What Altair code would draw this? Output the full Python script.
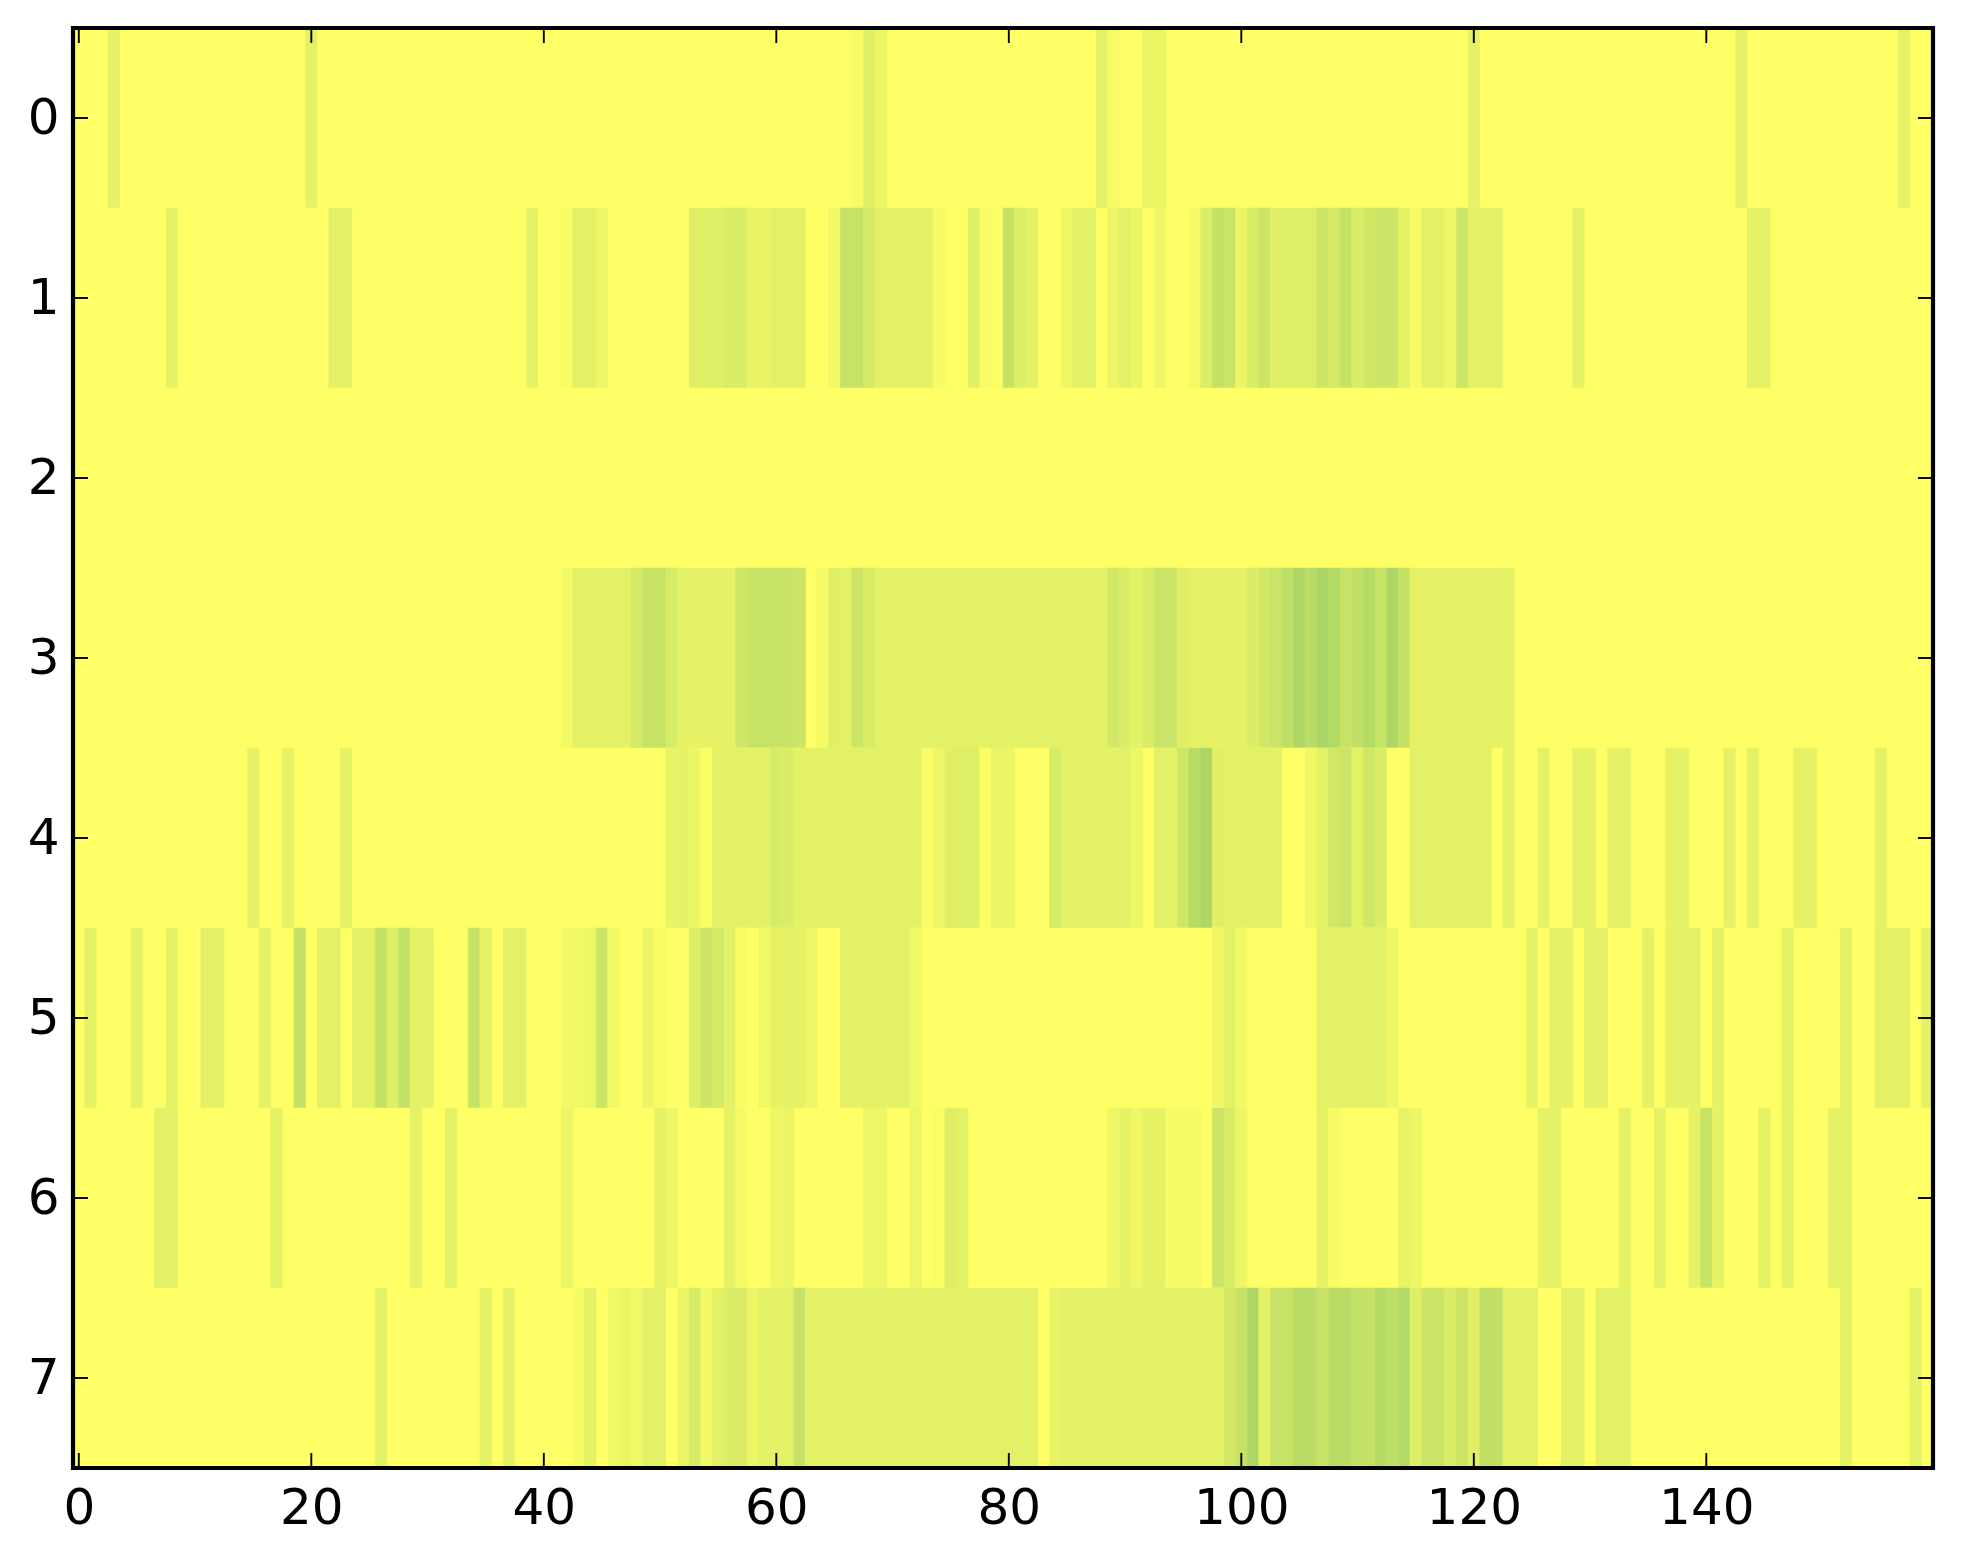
import altair as alt
import pandas as pd

# Each run: (first column, last column, value). Columns not listed are 0.
row_0 = [(3,3,.10),(20,20,.10),(67,67,.03),(68,68,.12),(69,69,.08),(88,88,.11),(89,89,.03),
         (92,93,.08),(120,120,.10),(143,143,.10),(157,157,.10)]
row_1 = [(8,8,.10),(22,23,.11),(39,39,.10),(42,42,.02),(43,44,.11),(45,45,.07),(53,53,.13),(54,55,.12),
         (56,57,.15),(58,59,.09),(60,62,.11),(65,65,.05),(66,67,.22),(68,68,.17),(69,73,.11),(74,74,.03),
         (76,76,.005),(77,77,.12),(78,78,.02),(79,79,.01),(80,80,.23),(81,81,.13),(82,82,.11),(85,85,.06),
         (86,87,.11),(89,89,.08),(90,90,.11),(91,91,.08),(93,93,.06),(96,96,.04),(97,97,.14),(98,98,.23),
         (99,99,.21),(100,100,.08),(101,101,.15),(102,102,.20),(103,106,.12),(107,107,.20),(108,108,.17),
         (109,109,.23),(110,110,.14),(111,111,.18),(112,113,.20),(114,114,.10),(115,115,.03),(116,117,.11),
         (118,118,.07),(119,119,.20),(120,122,.11),(129,129,.10),(144,145,.11)]
row_2 = []
row_3 = [(42,42,.05),(43,47,.11),(48,48,.17),(49,50,.22),(51,51,.16),(52,56,.10),(57,57,.19),(58,61,.22),
         (62,62,.20),(64,64,.04),(65,65,.12),(66,66,.11),(67,67,.20),(68,68,.15),(69,88,.11),(89,89,.18),
         (90,90,.14),(91,91,.11),(92,92,.14),(93,94,.21),(95,95,.13),(96,96,.10),(97,97,.11),(98,100,.10),
         (101,101,.14),(102,102,.18),(103,103,.21),(104,104,.25),(105,105,.32),(106,106,.27),(107,107,.33),
         (108,108,.30),(109,109,.22),(110,110,.24),(111,111,.29),(112,112,.22),(113,113,.32),(114,114,.23),
         (115,123,.10)]
row_4 = [(15,15,.10),(18,18,.10),(23,23,.10),(51,51,.09),(52,52,.10),(53,53,.07),(54,54,.01),(55,59,.11),
         (60,60,.16),(61,61,.14),(62,72,.11),(73,73,.02),(74,74,.07),(75,77,.12),(78,78,.01),(79,80,.08),
         (84,84,.16),(85,90,.11),(91,91,.07),(93,94,.11),(95,95,.19),(96,96,.28),(97,97,.32),(98,98,.12),
         (99,103,.11),(106,106,.06),(107,107,.11),(108,108,.18),(109,109,.20),(110,110,.11),(111,111,.19),
         (112,112,.14),(115,121,.11),(123,123,.10),(126,126,.10),(129,130,.10),(132,133,.10),(137,138,.10),
         (142,142,.10),(144,144,.10),(148,149,.10),(155,155,.10)]
row_5 = [(1,1,.10),(5,5,.10),(8,8,.10),(11,12,.11),(16,16,.10),(19,19,.23),(21,22,.11),(24,25,.11),(26,26,.23),
         (27,27,.12),(28,28,.23),(29,30,.11),(34,34,.23),(35,35,.10),(37,38,.11),(42,43,.05),(44,44,.07),
         (45,45,.20),(46,46,.05),(49,49,.08),(50,50,.02),(53,53,.13),(54,54,.20),(55,55,.17),(56,56,.11),
         (57,57,.02),(59,59,.05),(60,62,.10),(63,63,.07),(66,71,.11),(72,72,.05),(98,98,.06),(99,99,.11),
         (100,100,.05),(107,112,.11),(113,113,.07),(125,125,.10),(127,128,.10),(130,131,.10),(135,135,.10),
         (137,139,.10),(141,141,.10),(147,147,.10),(152,152,.10),(155,157,.11),(159,159,.10)]
row_6 = [(7,8,.11),(17,17,.10),(29,29,.10),(32,32,.11),(42,42,.07),(50,50,.10),(51,51,.07),(56,56,.10),
         (57,57,.04),(60,60,.06),(61,61,.08),(68,69,.07),(72,72,.07),(74,74,.01),(75,75,.13),(76,76,.11),
         (89,89,.06),(90,90,.10),(91,91,.06),(92,93,.10),(94,96,.03),(98,98,.20),(99,99,.15),(100,100,.07),
         (107,107,.10),(108,108,.03),(114,114,.09),(115,115,.07),(126,127,.10),(133,133,.10),(136,136,.10),
         (139,139,.10),(140,140,.22),(141,141,.10),(145,145,.10),(147,147,.10),(151,152,.10)]
row_7 = [(26,26,.11),(35,35,.10),(37,37,.10),(43,43,.03),(44,44,.10),(46,46,.05),(47,47,.08),(48,48,.05),
         (49,50,.11),(52,52,.08),(53,53,.16),(54,54,.05),(55,55,.11),(56,57,.14),(58,58,.08),(59,61,.11),
         (62,62,.22),(63,82,.11),(84,84,.09),(85,98,.11),(99,99,.17),(100,100,.22),(101,101,.32),(102,102,.11),
         (103,104,.22),(105,105,.28),(106,106,.27),(107,107,.22),(108,109,.27),(110,111,.23),(112,112,.29),
         (113,113,.26),(114,114,.30),(115,115,.13),(116,117,.20),(118,118,.14),(119,119,.20),(120,120,.12),
         (121,122,.24),(123,125,.11),(128,129,.11),(131,133,.11),(152,152,.10),(158,158,.10)]
rows = [row_0, row_1, row_2, row_3, row_4, row_5, row_6, row_7]

x_ticks = [0, 20, 40, 60, 80, 100, 120, 140]
y_ticks = [0, 1, 2, 3, 4, 5, 6, 7]
n_cols = 160
n_rows = 8

records = []
for r, runs in enumerate(rows):
    records.append(dict(x=-0.5, x2=n_cols - 0.5, y=r - 0.5, y2=r + 0.5, v=0.0))
    for first, last, v in runs:
        records.append(dict(x=first - 0.5, x2=last + 0.5, y=r - 0.5, y2=r + 0.5, v=v))
cells = pd.DataFrame(records)

W, H = 1860, 1440
x_scale = alt.Scale(domain=[-0.5, n_cols - 0.5], nice=False, zero=False)
y_scale = alt.Scale(domain=[n_rows - 0.5, -0.5], nice=False, zero=False)
color_scale = alt.Scale(domain=[0, 1], range=["#ffff66", "#007f66"], interpolate="rgb")
FONT = "DejaVu Sans"
FS = 50

heat = alt.Chart(cells).mark_rect(strokeWidth=0.5).encode(
    x=alt.X("x:Q", scale=x_scale, title=None,
            axis=alt.Axis(values=x_ticks, ticks=False, domain=False, grid=False, labelFont=FONT,
                          labelFontSize=FS, labelColor="black", labelPadding=15, format="d",
                          labelFlush=False, labelOverlap=False)),
    x2="x2:Q",
    y=alt.Y("y:Q", scale=y_scale, title=None,
            axis=alt.Axis(values=y_ticks, ticks=False, domain=False, grid=False, labelFont=FONT,
                          labelFontSize=FS, labelColor="black", labelPadding=14, format="d",
                          labelFlush=False, labelOverlap=False)),
    y2="y2:Q",
    fill=alt.Fill("v:Q", scale=color_scale, legend=None),
    stroke=alt.Stroke("v:Q", scale=color_scale, legend=None),
)

tick_len_y = 15 / 180
tick_len_x = 15 / 11.625
tick_rows = []
for t in x_ticks:
    tick_rows.append(dict(x=t, x2=t, y=n_rows - 0.5, y2=n_rows - 0.5 - tick_len_y))
    tick_rows.append(dict(x=t, x2=t, y=-0.5, y2=-0.5 + tick_len_y))
for t in y_ticks:
    tick_rows.append(dict(x=-0.5, x2=-0.5 + tick_len_x, y=t, y2=t))
    tick_rows.append(dict(x=n_cols - 0.5, x2=n_cols - 0.5 - tick_len_x, y=t, y2=t))
ticks = alt.Chart(pd.DataFrame(tick_rows)).mark_rule(color="black", strokeWidth=1.9).encode(
    x=alt.X("x:Q", scale=x_scale), x2="x2:Q",
    y=alt.Y("y:Q", scale=y_scale), y2="y2:Q",
)

frame = alt.Chart(pd.DataFrame([dict(x=-0.5, x2=n_cols - 0.5, y=-0.5, y2=n_rows - 0.5)])).mark_rect(
    fillOpacity=0, fill="white", stroke="black", strokeWidth=4.2
).encode(
    x=alt.X("x:Q", scale=x_scale), x2="x2:Q",
    y=alt.Y("y:Q", scale=y_scale), y2="y2:Q",
)

chart = alt.layer(heat, ticks, frame).properties(
    width=W, height=H, background="white",
    padding={"left": 19, "top": 17, "right": 5, "bottom": 5},
).configure_view(stroke=None)

chart.save("out.html", embed_options={"renderer": "svg", "actions": False})
